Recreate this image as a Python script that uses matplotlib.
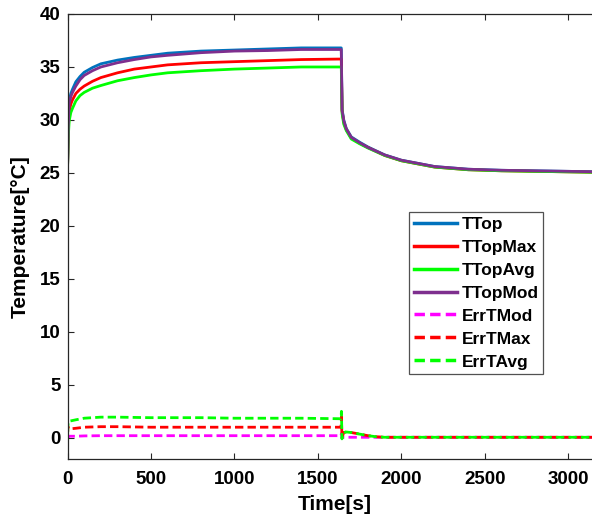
import numpy as np
import matplotlib
matplotlib.use("Agg")
import matplotlib.pyplot as plt

plt.rcParams['font.family'] = ['Liberation Sans', 'DejaVu Sans']
plt.rcParams['font.weight'] = 'bold'

# ---- data ----
t_main = [0, 5, 10, 20, 30, 50, 75, 100, 150, 200, 300, 400, 500, 600, 800, 1000,
          1200, 1400, 1640, 1645, 1655, 1670, 1700, 1750, 1800, 1900, 2000, 2100,
          2200, 2400, 2600, 2800, 3000, 3200]
ttop = [25.3, 30.0, 31.8, 32.5, 32.9, 33.6, 34.1, 34.5, 34.95, 35.3, 35.65, 35.9, 36.1,
        36.3, 36.5, 36.6, 36.7, 36.8, 36.8, 31.0, 30.0, 29.2, 28.4, 27.9, 27.45, 26.7,
        26.2, 25.9, 25.6, 25.35, 25.25, 25.2, 25.15, 25.1]
ttop_max = [25.3, 29.0, 30.8, 31.5, 31.9, 32.5, 32.9, 33.2, 33.65, 34.0, 34.45, 34.8,
            35.0, 35.2, 35.4, 35.5, 35.6, 35.7, 35.75, 30.8, 29.8, 29.1, 28.3, 27.8,
            27.4, 26.65, 26.15, 25.85, 25.55, 25.3, 25.2, 25.15, 25.1, 25.05]
ttop_avg = [25.3, 28.5, 29.9, 30.7, 31.1, 31.8, 32.3, 32.6, 33.0, 33.25, 33.7, 34.0,
            34.25, 34.45, 34.65, 34.8, 34.9, 35.0, 35.0, 30.6, 29.6, 29.0, 28.2, 27.75,
            27.35, 26.65, 26.15, 25.85, 25.55, 25.3, 25.2, 25.15, 25.1, 25.05]
ttop_mod = [25.2, 29.5, 31.5, 32.2, 32.6, 33.2, 33.8, 34.2, 34.65, 35.0, 35.4, 35.7,
            35.95, 36.1, 36.35, 36.5, 36.55, 36.65, 36.65, 30.9, 29.9, 29.15, 28.35,
            27.85, 27.4, 26.7, 26.2, 25.9, 25.6, 25.35, 25.25, 25.2, 25.15, 25.1]

t_err = [0, 2, 5, 20, 50, 100, 200, 300, 500, 800, 1000, 1400, 1638, 1641, 1644, 1655,
         1670, 1700, 1750, 1800, 1850, 1900, 2200, 2600, 3000, 3200]
err_mod = [0.0, 0.05, 0.15, 0.15, 0.15, 0.18, 0.2, 0.2, 0.2, 0.2, 0.2, 0.2, 0.2, 0.4,
           0.0, 0.05, 0.05, 0.05, 0.05, 0.05, 0.05, 0.05, 0.05, 0.05, 0.05, 0.05]
err_max = [-0.6, 1.1, 0.85, 0.85, 0.9, 1.0, 1.05, 1.05, 1.0, 1.0, 1.0, 1.0, 1.0, 2.0,
           0.0, 0.5, 0.55, 0.5, 0.35, 0.2, 0.1, 0.05, 0.05, 0.05, 0.05, 0.05]
err_avg = [-0.6, 1.1, 1.55, 1.6, 1.7, 1.85, 1.95, 1.95, 1.9, 1.9, 1.85, 1.85, 1.8, 2.5,
           -0.1, 0.5, 0.55, 0.5, 0.35, 0.2, 0.1, 0.05, 0.05, 0.05, 0.05, 0.05]

x_ticks = [0, 500, 1000, 1500, 2000, 2500, 3000]
y_ticks = [0, 5, 10, 15, 20, 25, 30, 35, 40]

# ---- plot ----
W, H = 592, 519
fig = plt.figure(figsize=(W / 100, H / 100), dpi=100)
left_px, top_px, bottom_px = 67.5, 14, 459
px_per_s = (568.3 - 67.5) / 3000
xmax = 3200
ax = fig.add_axes([left_px / W, 1 - bottom_px / H,
                   xmax * px_per_s / W, (bottom_px - top_px) / H])

ax.plot(t_main, ttop, color='#0072BD', lw=2, label='TTop')
ax.plot(t_main, ttop_max, color='#FF0000', lw=2, label='TTopMax')
ax.plot(t_main, ttop_avg, color='#00FF00', lw=2, label='TTopAvg')
ax.plot(t_main, ttop_mod, color='#7E2F8E', lw=2, label='TTopMod')
ax.plot(t_err, err_mod, color='#FF00FF', lw=2, ls=(0, (3, 1.5)), label='ErrTMod')
ax.plot(t_err, err_max, color='#FF0000', lw=2, ls=(0, (3, 1.5)), label='ErrTMax')
ax.plot(t_err, err_avg, color='#00FF00', lw=2, ls=(0, (3, 1.5)), label='ErrTAvg')

ax.set_xlim(0, xmax)
ax.set_ylim(-2, 40)
ax.set_xticks(x_ticks)
ax.set_yticks(y_ticks)
ax.tick_params(direction='in', top=True, right=True, length=4, width=0.8,
               labelsize=13.5, color='#262626')
ax.tick_params(axis='x', pad=9)
ax.tick_params(axis='y', pad=5)
for s in ax.spines.values():
    s.set_color('#262626')
    s.set_linewidth(0.9)

ax.set_xlabel('Time[s]', fontsize=15, fontweight='bold', labelpad=5)
ax.set_ylabel('Temperature[°C]', fontsize=15, fontweight='bold', labelpad=7)

leg = ax.legend(loc='upper left', bbox_to_anchor=(409 / W, 1 - 211.7 / H),
                bbox_transform=fig.transFigure, frameon=True,
                fancybox=False, edgecolor='#262626', handlelength=2.5,
                handletextpad=0.25, labelspacing=0.45, borderpad=0.28,
                borderaxespad=0, prop={'weight': 'bold', 'size': 12.5})
leg.get_frame().set_linewidth(0.9)
for line in leg.get_lines():
    line.set_linewidth(2.5)

fig.savefig('out.png', dpi=100)
